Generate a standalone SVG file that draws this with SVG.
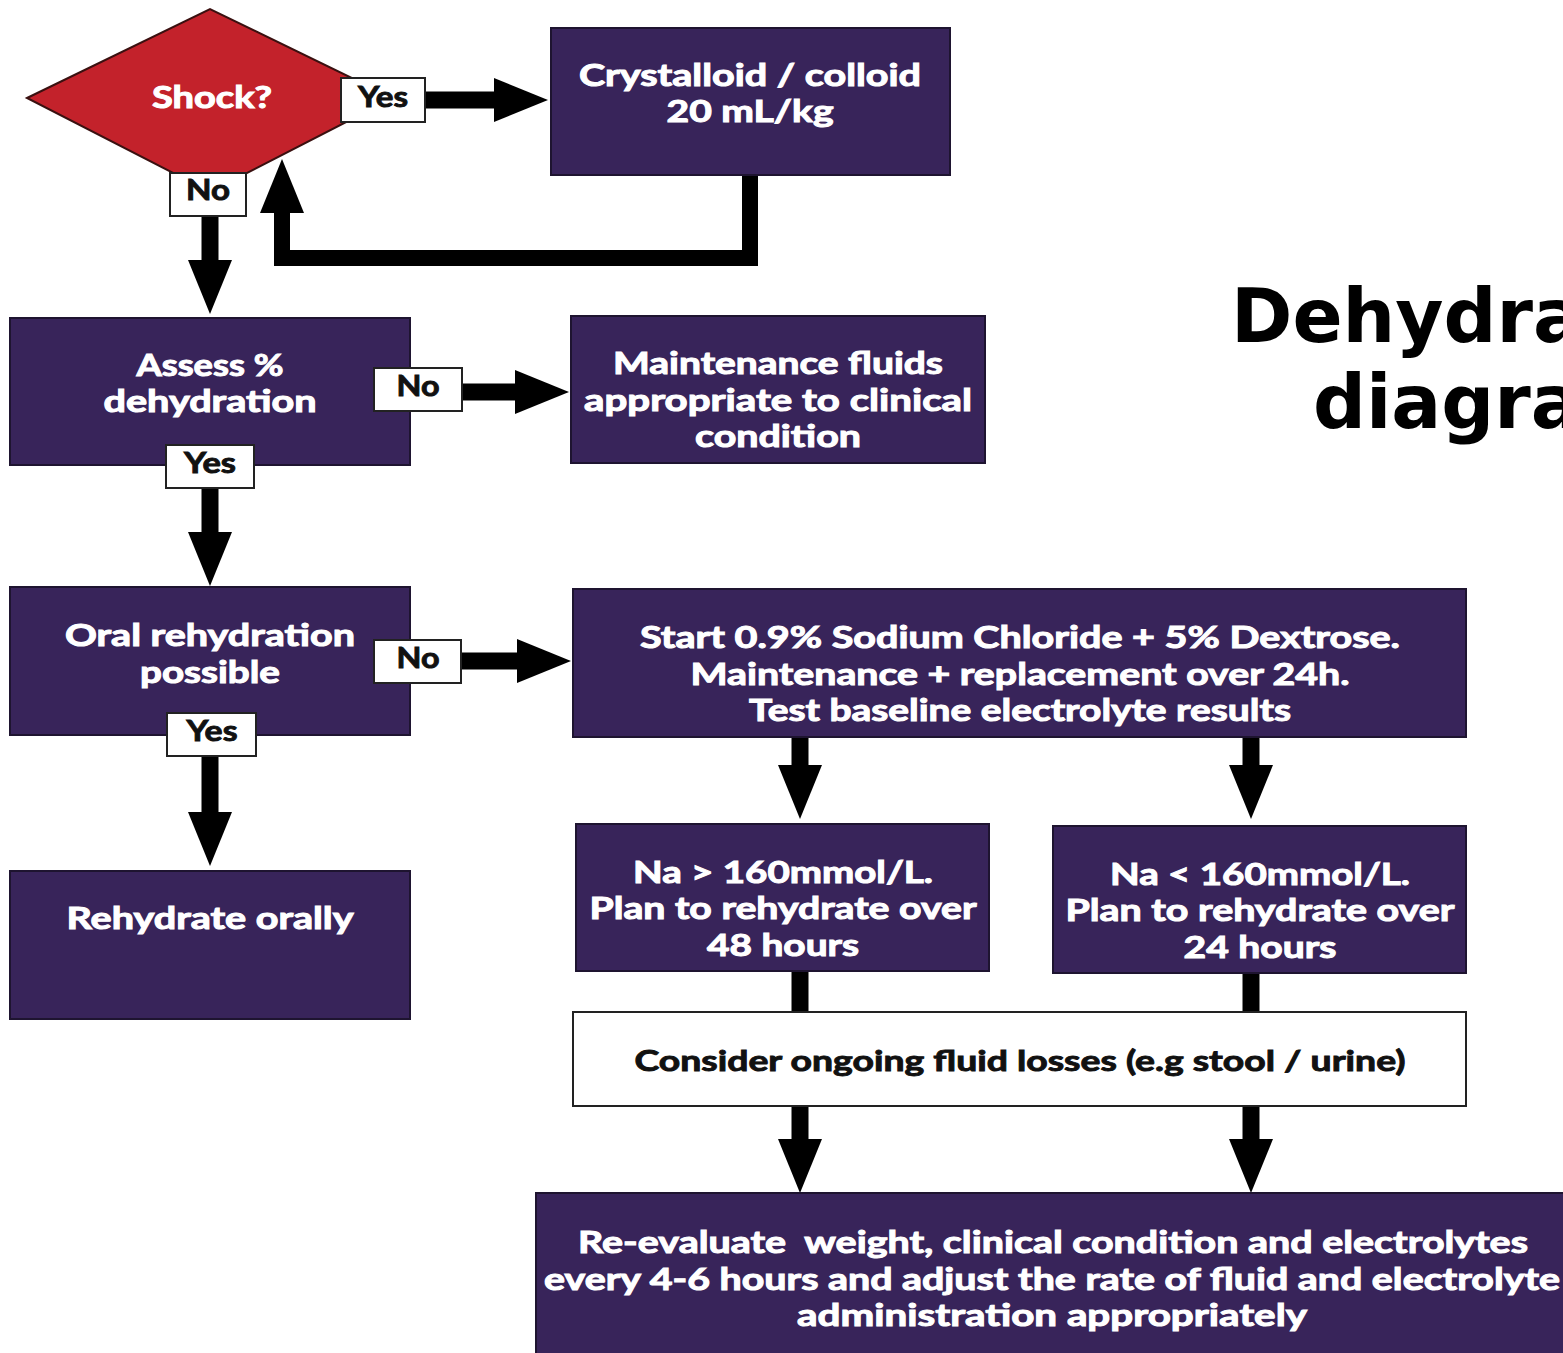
<svg xmlns="http://www.w3.org/2000/svg" width="1563" height="1353" viewBox="0 0 1563 1353">
<style>
.box{fill:#38245a;stroke:#1e1430;stroke-width:2}
.lbl{fill:#ffffff;stroke:#222;stroke-width:2}
.wt{font-family:Lato,"Open Sans","Liberation Sans",sans-serif;font-weight:700;font-size:30px;fill:#ffffff;stroke:#ffffff;stroke-width:1;text-anchor:middle}
.bt{font-family:Lato,"Open Sans","Liberation Sans",sans-serif;font-weight:700;font-size:28px;fill:#111;stroke:#111;stroke-width:0.9;text-anchor:middle}
.con{fill:none;stroke:#000;stroke-width:17;marker-end:url(#ah)}
.lin{fill:none;stroke:#000;stroke-width:17}
.title{font-family:"DejaVu Sans",Verdana,sans-serif;font-weight:700;font-size:74px;fill:#000}
</style>
<defs>
<marker id="ah" markerUnits="userSpaceOnUse" markerWidth="54" markerHeight="44" refX="0" refY="22" orient="auto" overflow="visible">
<path d="M0,0 L54,22 L0,44 Z" fill="#000"/>
</marker>
</defs>
<rect width="1563" height="1353" fill="#ffffff"/>

<g id="title">
<text class="title" x="1231" y="342">Dehydra</text>
<text class="title" x="1313" y="428">diagra</text>
</g>

<g id="connectors">
<path class="con" d="M425,100 H494"/>
<path class="con" style="stroke-width:16" d="M750,175 V258 H282 V213"/>
<path class="con" d="M210,216 V260"/>
<path class="con" d="M462,392 H515"/>
<path class="con" d="M210,488 V532"/>
<path class="con" d="M461,661 H517"/>
<path class="con" d="M210,756 V812"/>
<path class="con" d="M800,737 V765"/>
<path class="con" d="M1251,737 V765"/>
<path class="lin" d="M800,971 V1012"/>
<path class="lin" d="M1251,973 V1012"/>
<path class="con" d="M800,1106 V1139"/>
<path class="con" d="M1251,1106 V1139"/>
</g>

<g id="shock">
<polygon points="27,98 210,9 393,98 210,192" fill="#c3222b" stroke="#3a1010" stroke-width="2"/>
<text class="wt" x="212" y="108" textLength="120" lengthAdjust="spacingAndGlyphs">Shock?</text>
</g>

<g id="crystalloid">
<rect class="box" x="551" y="28" width="399" height="147"/>
<text class="wt" x="750" y="86" textLength="342" lengthAdjust="spacingAndGlyphs">Crystalloid / colloid</text>
<text class="wt" x="750" y="122" textLength="167" lengthAdjust="spacingAndGlyphs">20 mL/kg</text>
</g>

<g id="assess">
<rect class="box" x="10" y="318" width="400" height="147"/>
<text class="wt" x="210" y="376" textLength="147" lengthAdjust="spacingAndGlyphs">Assess %</text>
<text class="wt" x="210" y="412" textLength="213" lengthAdjust="spacingAndGlyphs">dehydration</text>
</g>

<g id="maintenance">
<rect class="box" x="571" y="316" width="414" height="147"/>
<text class="wt" x="778" y="374" textLength="330" lengthAdjust="spacingAndGlyphs">Maintenance fluids</text>
<text class="wt" x="778" y="411" textLength="388" lengthAdjust="spacingAndGlyphs">appropriate to clinical</text>
<text class="wt" x="778" y="447" textLength="166" lengthAdjust="spacingAndGlyphs">condition</text>
</g>

<g id="oral">
<rect class="box" x="10" y="587" width="400" height="148"/>
<text class="wt" x="210" y="646" textLength="290" lengthAdjust="spacingAndGlyphs">Oral rehydration</text>
<text class="wt" x="210" y="683" textLength="140" lengthAdjust="spacingAndGlyphs">possible</text>
</g>

<g id="start">
<rect class="box" x="573" y="589" width="893" height="148"/>
<text class="wt" x="1020" y="648" textLength="760" lengthAdjust="spacingAndGlyphs">Start 0.9% Sodium Chloride + 5% Dextrose.</text>
<text class="wt" x="1020" y="685" textLength="659" lengthAdjust="spacingAndGlyphs">Maintenance + replacement over 24h.</text>
<text class="wt" x="1020" y="721" textLength="542" lengthAdjust="spacingAndGlyphs">Test baseline electrolyte results</text>
</g>

<g id="orally">
<rect class="box" x="10" y="871" width="400" height="148"/>
<text class="wt" x="210" y="929" textLength="287" lengthAdjust="spacingAndGlyphs">Rehydrate orally</text>
</g>

<g id="na-high">
<rect class="box" x="576" y="824" width="413" height="147"/>
<text class="wt" x="783" y="883" textLength="300" lengthAdjust="spacingAndGlyphs">Na &gt; 160mmol/L.</text>
<text class="wt" x="783" y="919" textLength="387" lengthAdjust="spacingAndGlyphs">Plan to rehydrate over</text>
<text class="wt" x="783" y="956" textLength="152" lengthAdjust="spacingAndGlyphs">48 hours</text>
</g>

<g id="na-low">
<rect class="box" x="1053" y="826" width="413" height="147"/>
<text class="wt" x="1260" y="885" textLength="300" lengthAdjust="spacingAndGlyphs">Na &lt; 160mmol/L.</text>
<text class="wt" x="1260" y="921" textLength="389" lengthAdjust="spacingAndGlyphs">Plan to rehydrate over</text>
<text class="wt" x="1260" y="958" textLength="153" lengthAdjust="spacingAndGlyphs">24 hours</text>
</g>

<g id="consider">
<rect x="573" y="1012" width="893" height="94" fill="#ffffff" stroke="#222" stroke-width="2"/>
<text class="bt" x="1020" y="1071" textLength="771" lengthAdjust="spacingAndGlyphs">Consider ongoing fluid losses (e.g stool / urine)</text>
</g>

<g id="reevaluate">
<rect class="box" x="536" y="1193" width="1040" height="170"/>
<text class="wt" x="1053" y="1253" textLength="950" lengthAdjust="spacingAndGlyphs" xml:space="preserve">Re-evaluate  weight, clinical condition and electrolytes</text>
<text class="wt" x="1052" y="1290" textLength="1016" lengthAdjust="spacingAndGlyphs">every 4-6 hours and adjust the rate of fluid and electrolyte</text>
<text class="wt" x="1052" y="1326" textLength="510" lengthAdjust="spacingAndGlyphs">administration appropriately</text>
</g>

<g id="labels">
<g id="lbl-shock-yes"><rect class="lbl" x="341" y="78" width="84" height="44"/><text class="bt" x="383" y="107" textLength="50" lengthAdjust="spacingAndGlyphs">Yes</text></g>
<g id="lbl-shock-no"><rect class="lbl" x="170" y="173" width="76" height="43"/><text class="bt" x="208" y="200" textLength="44" lengthAdjust="spacingAndGlyphs">No</text></g>
<g id="lbl-assess-no"><rect class="lbl" x="374" y="368" width="88" height="43"/><text class="bt" x="418" y="396" textLength="43" lengthAdjust="spacingAndGlyphs">No</text></g>
<g id="lbl-assess-yes"><rect class="lbl" x="166" y="445" width="88" height="43"/><text class="bt" x="210" y="473" textLength="52" lengthAdjust="spacingAndGlyphs">Yes</text></g>
<g id="lbl-oral-no"><rect class="lbl" x="374" y="640" width="87" height="43"/><text class="bt" x="418" y="668" textLength="43" lengthAdjust="spacingAndGlyphs">No</text></g>
<g id="lbl-oral-yes"><rect class="lbl" x="167" y="713" width="89" height="43"/><text class="bt" x="212" y="741" textLength="51" lengthAdjust="spacingAndGlyphs">Yes</text></g>
</g>
</svg>
